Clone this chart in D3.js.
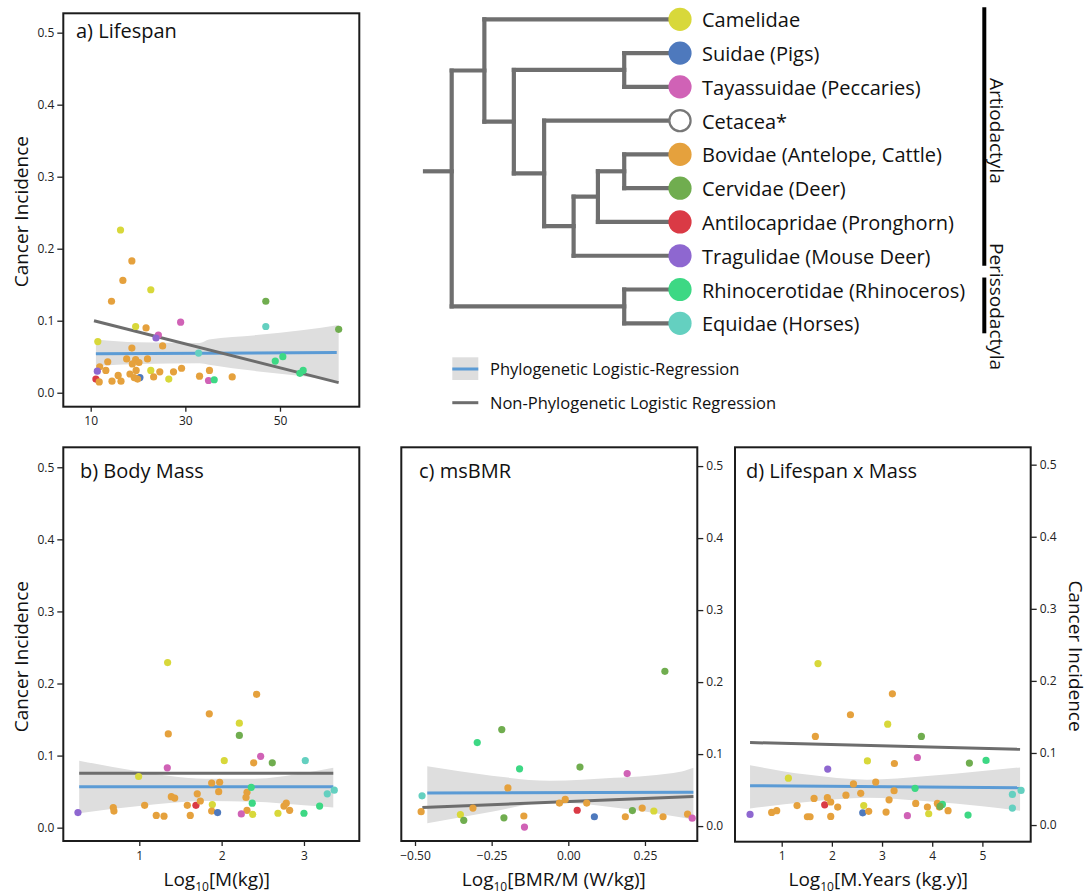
<!DOCTYPE html>
<html>
<head>
<meta charset="utf-8">
<script src="https://cdn.jsdelivr.net/npm/d3@7"></script>
<style>
body { margin: 0; background: #fff; }
svg { display: block; }
text { font-family: "Open Sans", sans-serif; fill: #111; }
</style>
</head>
<body>
<div id="chart"></div>
<script>

// ---- families (tree leaves, top to bottom) ----
var famKeys   = ["cam", "sui", "tay", "cet", "bov", "cer", "ant", "tra", "rhi", "equ"];
var famNames  = ["Camelidae", "Suidae (Pigs)", "Tayassuidae (Peccaries)", "Cetacea*",
                 "Bovidae (Antelope, Cattle)", "Cervidae (Deer)", "Antilocapridae (Pronghorn)",
                 "Tragulidae (Mouse Deer)", "Rhinocerotidae (Rhinoceros)", "Equidae (Horses)"];
var famColors = ["#d8d83a", "#4e79bd", "#d062b6", "#ffffff", "#e5a13d",
                 "#70ad4f", "#da3a45", "#8e67d0", "#3dd884", "#64d0c0"];

// branch ages (leaves at 0), root stub starts at 64
var stubAge = 64;
var tree = {age: 57.3, children: [
  {age: 49.1, children: [
    {leaf: "cam"},
    {age: 41.7, children: [
      {age: 14.0, children: [{leaf: "sui"}, {leaf: "tay"}]},
      {age: 34.1, children: [
        {leaf: "cet"},
        {age: 26.7, children: [
          {age: 20.6, children: [
            {age: 14.0, children: [{leaf: "bov"}, {leaf: "cer"}]},
            {leaf: "ant"}
          ]},
          {leaf: "tra"}
        ]}
      ]}
    ]}
  ]},
  {age: 14.0, children: [{leaf: "rhi"}, {leaf: "equ"}]}
]};

var orders = [["Artiodactyla", "cam", "tra"], ["Perissodactyla", "rhi", "equ"]];

// ---- panel a: lifespan (years) vs cancer incidence ----
var lifespanPts = [
  [16.3,0.226,"cam"],[18.7,0.183,"bov"],[16.8,0.156,"bov"],[22.7,0.143,"cam"],[14.4,0.127,"bov"],
  [47.0,0.127,"cer"],[47.0,0.092,"equ"],[62.4,0.088,"cer"],[29.0,0.098,"tay"],[19.5,0.092,"cam"],
  [21.7,0.090,"bov"],[24.3,0.080,"tay"],[23.8,0.076,"tra"],[11.5,0.071,"cam"],[25.2,0.065,"bov"],
  [18.7,0.062,"bov"],[32.8,0.055,"equ"],[50.6,0.050,"rhi"],[49.0,0.044,"rhi"],[13.6,0.043,"bov"],
  [17.6,0.047,"bov"],[19.5,0.046,"bov"],[22.0,0.047,"bov"],[20.2,0.042,"bov"],[18.8,0.040,"bov"],
  [11.9,0.036,"bov"],[22.7,0.031,"cam"],[29.2,0.034,"bov"],[35.1,0.031,"bov"],[24.6,0.029,"bov"],
  [27.5,0.029,"bov"],[13.2,0.031,"bov"],[11.4,0.030,"tra"],[19.6,0.031,"bov"],[18.3,0.026,"bov"],
  [54.9,0.031,"rhi"],[54.2,0.027,"rhi"],[15.8,0.024,"bov"],[33.0,0.023,"bov"],[39.9,0.022,"bov"],
  [23.3,0.022,"bov"],[20.4,0.021,"sui"],[19.2,0.021,"bov"],[11.1,0.019,"ant"],[14.5,0.016,"bov"],
  [16.4,0.016,"bov"],[11.8,0.015,"bov"],[26.5,0.019,"cam"],[34.9,0.017,"tay"],[36.1,0.018,"rhi"],
  [19.9,0.019,"bov"]
];
var lifespanGray = [[10.7,0.100],[62.4,0.014]];
var lifespanBlue = [[11.1,0.054],[62.0,0.056]];
var lifespanBand = [[11.1,0.037,0.074],[20,0.040,0.070],[33,0.041,0.069],[35,0.039,0.074],
                    [45,0.030,0.080],[55,0.023,0.087],[62.4,0.016,0.094]];

// ---- panel b: log10 body mass ----
var massPts = [
  [0.255,0.021,"tra"],[0.684,0.028,"bov"],[0.692,0.023,"bov"],[0.992,0.071,"cam"],[1.065,0.031,"bov"],
  [1.206,0.017,"bov"],[1.300,0.016,"bov"],[1.344,0.229,"cam"],[1.352,0.130,"bov"],[1.340,0.083,"tay"],
  [1.389,0.043,"bov"],[1.430,0.041,"bov"],[1.583,0.031,"bov"],[1.619,0.017,"bov"],[1.688,0.031,"ant"],
  [1.704,0.047,"bov"],[1.741,0.037,"bov"],[1.850,0.158,"bov"],[1.879,0.062,"bov"],[1.887,0.032,"cam"],
  [1.879,0.023,"bov"],[1.951,0.021,"sui"],[1.976,0.063,"bov"],[1.964,0.050,"bov"],[2.032,0.093,"cam"],
  [2.215,0.145,"cam"],[2.215,0.128,"cer"],[2.308,0.049,"bov"],[2.296,0.042,"bov"],[2.308,0.024,"bov"],
  [2.239,0.019,"tay"],[2.360,0.056,"rhi"],[2.372,0.034,"rhi"],[2.377,0.0185,"cam"],[2.389,0.090,"bov"],
  [2.425,0.185,"bov"],[2.474,0.099,"tay"],[2.615,0.090,"cer"],[2.684,0.020,"cam"],[2.757,0.030,"bov"],
  [2.785,0.034,"bov"],[2.826,0.024,"bov"],[3.000,0.020,"rhi"],[3.016,0.093,"equ"],[3.190,0.030,"rhi"],
  [3.283,0.047,"equ"],[3.368,0.052,"equ"]
];
var massGray = [[0.27,0.0754],[3.356,0.0754]];
var massBlue = [[0.27,0.0569],[3.356,0.0569]];
var massBand = [[0.27,0.020,0.093],[1.0,0.030,0.078],[1.8,0.037,0.068],[2.4,0.036,0.068],
                [3.0,0.031,0.076],[3.356,0.028,0.083]];

// ---- panel c: log10 mass-specific BMR ----
var bmrPts = [
  [-0.477,0.042,"equ"],[-0.480,0.020,"bov"],[-0.352,0.016,"cam"],[-0.341,0.008,"cer"],[-0.311,0.025,"bov"],
  [-0.297,0.116,"rhi"],[-0.217,0.134,"cer"],[-0.210,0.0115,"cer"],[-0.197,0.053,"bov"],[-0.159,0.0795,"rhi"],
  [-0.145,0.014,"bov"],[-0.143,-0.0014,"tay"],[-0.029,0.032,"bov"],[-0.010,0.037,"bov"],[0.029,0.022,"ant"],
  [0.038,0.082,"cer"],[0.060,0.032,"bov"],[0.085,0.013,"sui"],[0.186,0.013,"bov"],[0.192,0.073,"tay"],
  [0.209,0.0216,"cer"],[0.241,0.025,"bov"],[0.279,0.021,"cam"],[0.315,0.215,"cer"],[0.309,0.013,"bov"],
  [0.389,0.0165,"bov"],[0.404,0.011,"tay"]
];
var bmrGray = [[-0.476,0.0257],[0.408,0.041]];
var bmrBlue = [[-0.46,0.046],[0.408,0.047]];
var bmrBand = [[-0.46,0.004,0.083],[-0.25,0.020,0.070],[-0.06,0.033,0.063],[0.15,0.026,0.067],
               [0.37,0.012,0.076],[0.408,0.009,0.081]];

// ---- panel d: log10 lifespan x mass ----
var lxmPts = [
  [0.369,0.0148,"tra"],[0.80,0.0175,"bov"],[0.90,0.020,"bov"],[1.133,0.065,"cam"],[1.306,0.027,"bov"],
  [1.512,0.0115,"bov"],[1.565,0.0115,"bov"],[1.645,0.037,"bov"],[1.671,0.123,"bov"],[1.724,0.224,"cam"],
  [1.857,0.028,"ant"],[1.910,0.038,"bov"],[1.917,0.0776,"tra"],[1.977,0.032,"bov"],[1.977,0.012,"bov"],
  [2.116,0.025,"bov"],[2.28,0.0415,"bov"],[2.37,0.153,"bov"],[2.43,0.057,"bov"],[2.575,0.044,"bov"],
  [2.615,0.017,"sui"],[2.635,0.027,"cam"],[2.708,0.089,"cam"],[2.734,0.019,"bov"],[2.874,0.0596,"bov"],
  [3.08,0.018,"bov"],[3.113,0.140,"cam"],[3.14,0.035,"bov"],[3.206,0.182,"bov"],[3.24,0.0476,"bov"],
  [3.246,0.0854,"bov"],[3.505,0.013,"tay"],[3.658,0.051,"rhi"],[3.671,0.030,"bov"],[3.704,0.0937,"tay"],
  [3.784,0.123,"cer"],[3.904,0.025,"bov"],[3.93,0.0157,"cam"],[4.103,0.030,"bov"],[4.143,0.025,"bov"],
  [4.203,0.0286,"rhi"],[4.156,0.026,"cer"],[4.316,0.020,"bov"],[4.714,0.0139,"rhi"],[4.741,0.086,"cer"],
  [5.073,0.0896,"rhi"],[5.598,0.0425,"equ"],[5.598,0.0235,"equ"],[5.771,0.048,"equ"]
];
var lxmGray = [[0.369,0.1145],[5.751,0.105]];
var lxmBlue = [[0.369,0.0545],[5.751,0.0517]];
var lxmBand = [[0.369,0.023,0.083],[1.5,0.032,0.070],[2.7,0.038,0.063],[3.9,0.033,0.068],
               [5.0,0.026,0.075],[5.751,0.020,0.080]];

var yTicks = [0, 0.1, 0.2, 0.3, 0.4, 0.5];

var colorOf = d3.scaleOrdinal().domain(famKeys).range(famColors);

var W = 1089, H = 894;
var svg = d3.select("#chart").append("svg").attr("width", W).attr("height", H);

// ---------- scatter panels ----------
var panels = [
  {title: "a) Lifespan", tx: 76, ty: 37.7, box: [63.3, 13.3, 359.3, 406.7],
   xd: [4.21, 66.76], yd: [-0.0194, 0.5269], xt: [10, 30, 50], xf: d3.format("d"), yside: "left",
   pts: lifespanPts, gray: lifespanGray, blue: lifespanBlue, band: lifespanBand},
  {title: "b) Body Mass", tx: 80, ty: 477.7, box: [63.3, 447.3, 359.3, 841],
   xd: [0.077, 3.672], yd: [-0.0185, 0.5277], xt: [1, 2, 3], xf: d3.format("d"), yside: "left",
   pts: massPts, gray: massGray, blue: massBlue, band: massBand},
  {title: "c) msBMR", tx: 419, ty: 477.7, box: [401.3, 447.3, 697.3, 841],
   xd: [-0.5447, 0.4207], yd: [-0.0207, 0.5261], xt: [-0.5, -0.25, 0, 0.25], xf: d3.format(".2f"), yside: "right",
   pts: bmrPts, gray: bmrGray, blue: bmrBlue, band: bmrBand},
  {title: "d) Lifespan x Mass", tx: 746, ty: 477.7, box: [735, 447.3, 1030.7, 841.7],
   xd: [0.069, 5.963], yd: [-0.0231, 0.5241], xt: [1, 2, 3, 4, 5], xf: d3.format("d"), yside: "right",
   pts: lxmPts, gray: lxmGray, blue: lxmBlue, band: lxmBand}
];

function styleAxis(ax) {
  ax.select(".domain").remove();
  ax.attr("font-family", "DejaVu Sans").attr("font-size", 12);
  ax.selectAll(".tick line").attr("stroke", "#222").attr("stroke-width", 1.3);
  ax.selectAll(".tick text").style("fill", "#222");
}

panels.forEach(function(p) {
  var x = d3.scaleLinear().domain(p.xd).range([p.box[0], p.box[2]]);
  var y = d3.scaleLinear().domain(p.yd).range([p.box[3], p.box[1]]);
  var g = svg.append("g");

  g.append("path").datum(p.band)
    .attr("d", d3.area().x(function(d) { return x(d[0]); })
      .y0(function(d) { return y(d[1]); }).y1(function(d) { return y(d[2]); })
      .curve(d3.curveMonotoneX))
    .attr("fill", "#dedede");

  var line = d3.line().x(function(d) { return x(d[0]); }).y(function(d) { return y(d[1]); });
  g.append("path").datum(p.blue).attr("d", line)
    .attr("fill", "none").attr("stroke", "#5b9bd5").attr("stroke-width", 3);
  g.append("path").datum(p.gray).attr("d", line)
    .attr("fill", "none").attr("stroke", "#6d6d6d").attr("stroke-width", 3);

  g.selectAll("circle").data(p.pts).enter().append("circle")
    .attr("cx", function(d) { return x(d[0]); })
    .attr("cy", function(d) { return y(d[1]); })
    .attr("r", 3.6)
    .attr("fill", function(d) { return colorOf(d[2]); });

  g.append("rect")
    .attr("x", p.box[0]).attr("y", p.box[1])
    .attr("width", p.box[2] - p.box[0]).attr("height", p.box[3] - p.box[1])
    .attr("fill", "none").attr("stroke", "#1c1c1c").attr("stroke-width", 2);

  var xa = g.append("g").attr("transform", "translate(0," + p.box[3] + ")")
    .call(d3.axisBottom(x).tickValues(p.xt).tickFormat(p.xf).tickSize(5).tickPadding(5));
  styleAxis(xa);

  var ya;
  if (p.yside == "left") {
    ya = g.append("g").attr("transform", "translate(" + p.box[0] + ",0)")
      .call(d3.axisLeft(y).tickValues(yTicks).tickFormat(d3.format(".1f")).tickSize(6).tickPadding(3));
  } else {
    ya = g.append("g").attr("transform", "translate(" + p.box[2] + ",0)")
      .call(d3.axisRight(y).tickValues(yTicks).tickFormat(d3.format(".1f")).tickSize(6).tickPadding(3));
  }
  styleAxis(ya);

  g.append("text").attr("x", p.tx).attr("y", p.ty)
    .attr("font-size", 20).text(p.title);
});

// y axis titles
svg.append("text").attr("transform", "translate(28,211.7) rotate(-90)")
  .attr("text-anchor", "middle").attr("font-size", 19).text("Cancer Incidence");
svg.append("text").attr("transform", "translate(28,656.7) rotate(-90)")
  .attr("text-anchor", "middle").attr("font-size", 19).text("Cancer Incidence");
svg.append("text").attr("transform", "translate(1069,656) rotate(90)")
  .attr("text-anchor", "middle").attr("font-size", 19).text("Cancer Incidence");

// x axis titles with subscript
function xLabel(cx, base, rest) {
  var t = svg.append("text").attr("x", cx).attr("y", base)
    .attr("text-anchor", "middle").attr("font-size", 19);
  t.append("tspan").text("Log");
  t.append("tspan").attr("font-size", 12).attr("dy", 5).text("10");
  t.append("tspan").attr("dy", -5).text(rest);
}
xLabel(216.7, 886, "[M(kg)]");
xLabel(553.8, 886, "[BMR/M (W/kg)]");
xLabel(878.3, 886, "[M.Years (kg.y)]");

// ---------- phylogeny ----------
var ageX = d3.scaleLinear().domain([stubAge, 0]).range([425, 680]);
var leafY = d3.scalePoint().domain(famKeys).range([19.3, 323.3]);

var root = d3.hierarchy(tree);
root.eachAfter(function(n) {
  if (!n.children) {
    n.px = ageX(0); n.py = leafY(n.data.leaf);
  } else {
    n.px = ageX(n.data.age);
    n.py = (n.children[0].py + n.children[n.children.length - 1].py) / 2;
  }
});
// root is drawn at the mean of the leaves, as in the source figure
root.py = d3.mean(root.leaves(), function(l) { return l.py; });

var tg = svg.append("g").attr("fill", "none").attr("stroke", "#6f6f6f")
  .attr("stroke-width", 4.2).attr("stroke-linecap", "square");
tg.append("line").attr("x1", ageX(stubAge)).attr("x2", root.px)
  .attr("y1", root.py).attr("y2", root.py);
root.descendants().forEach(function(n) {
  if (!n.children) return;
  var ys = n.children.map(function(c) { return c.py; });
  tg.append("line").attr("x1", n.px).attr("x2", n.px)
    .attr("y1", d3.min(ys)).attr("y2", d3.max(ys));
  n.children.forEach(function(c) {
    tg.append("line").attr("x1", n.px).attr("x2", c.px).attr("y1", c.py).attr("y2", c.py);
  });
});

var leafG = svg.append("g").selectAll("g").data(famKeys).enter().append("g");
leafG.append("circle")
  .attr("cx", ageX(0)).attr("cy", function(k) { return leafY(k); })
  .attr("r", function(k) { return k == "cet" ? 10.6 : 11.6; })
  .attr("fill", function(k) { return colorOf(k); })
  .attr("stroke", function(k) { return k == "cet" ? "#777" : "none"; })
  .attr("stroke-width", 2.2);
leafG.append("text")
  .attr("x", 702).attr("y", function(k) { return leafY(k) + 8; })
  .attr("font-size", 20)
  .text(function(k, i) { return famNames[i]; });

// order brackets
orders.forEach(function(o, i) {
  var y0 = leafY(o[1]) - 12, y1 = leafY(o[2]) + 10;
  svg.append("line").attr("x1", 984.3).attr("x2", 984.3).attr("y1", y0).attr("y2", y1)
    .attr("stroke", "#000").attr("stroke-width", 4);
  svg.append("text")
    .attr("transform", "translate(990," + (i == 0 ? 78 : 243) + ") rotate(90)")
    .attr("font-size", 19).text(o[0]);
});

// ---------- legend ----------
var lg = svg.append("g");
lg.append("rect").attr("x", 452.3).attr("y", 357.3).attr("width", 26).attr("height", 22.7)
  .attr("fill", "#dedede");
lg.append("line").attr("x1", 452.3).attr("x2", 478.3).attr("y1", 369).attr("y2", 369)
  .attr("stroke", "#5b9bd5").attr("stroke-width", 3);
lg.append("text").attr("x", 490).attr("y", 375).attr("font-size", 16.5)
  .text("Phylogenetic Logistic-Regression");
lg.append("line").attr("x1", 452.3).attr("x2", 478.3).attr("y1", 402.7).attr("y2", 402.7)
  .attr("stroke", "#6d6d6d").attr("stroke-width", 3);
lg.append("text").attr("x", 490).attr("y", 408.5).attr("font-size", 16.5)
  .text("Non-Phylogenetic Logistic Regression");

</script>
</body>
</html>
